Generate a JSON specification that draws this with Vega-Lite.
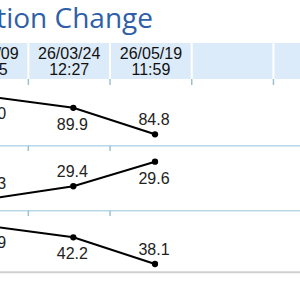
{
  "$schema": "https://vega.github.io/schema/vega-lite/v6.json",
  "width": 300,
  "height": 300,
  "padding": 0,
  "autosize": "none",
  "background": "white",
  "config": {"view": {"stroke": null}},
  "datasets": {
    "values": [
      {"metric": "A", "col": 0, "value": 92.0},
      {"metric": "A", "col": 1, "value": 89.9},
      {"metric": "A", "col": 2, "value": 84.8},
      {"metric": "B", "col": 0, "value": 29.3},
      {"metric": "B", "col": 1, "value": 29.4},
      {"metric": "B", "col": 2, "value": 29.6},
      {"metric": "C", "col": 0, "value": 43.9},
      {"metric": "C", "col": 1, "value": 42.2},
      {"metric": "C", "col": 2, "value": 38.1}
    ],
    "columns": [
      {"col": 0, "label": "26/01/09\n10:45"},
      {"col": 1, "label": "26/03/24\n12:27"},
      {"col": 2, "label": "26/05/19\n11:59"},
      {"col": 3, "label": ""},
      {"col": 4, "label": ""}
    ],
    "bounds": [{"b": 0.5}, {"b": 1.5}, {"b": 2.5}, {"b": 3.5}],
    "rowTicks": [
      {"b": 0.5, "u": 1.0262, "u2": 1.1077},
      {"b": 1.5, "u": 1.0262, "u2": 1.1077},
      {"b": 0.5, "u": 2.0262, "u2": 2.1077},
      {"b": 1.5, "u": 2.0262, "u2": 2.1077}
    ],
    "seps": [{"u": 1.0262}, {"u": 2.0262}]
  },
  "resolve": {"scale": {"x": "independent", "y": "independent"}},
  "layer": [
    {
      "layer": [
        {
          "data": {"values": [{}]},
          "mark": {"type": "rect", "color": "#DCEBF9"},
          "encoding": {
            "x": {"datum": -0.5, "type": "quantitative", "scale": {"domain": [0.153, 3.825], "nice": false, "zero": false}, "axis": null},
            "x2": {"datum": 4.5},
            "y": {"datum": -0.5538, "type": "quantitative", "scale": {"domain": [-1.21538, 3.4], "reverse": true, "nice": false, "zero": false}, "axis": null},
            "y2": {"datum": 0}
          }
        },
        {
          "data": {"name": "bounds"},
          "mark": {"type": "rule", "color": "#FFFFFF", "strokeWidth": 2},
          "encoding": {
            "x": {"field": "b", "type": "quantitative", "scale": {"domain": [0.153, 3.825], "nice": false, "zero": false}, "axis": null},
            "y": {"datum": -0.5538, "type": "quantitative", "scale": {"domain": [-1.21538, 3.4], "reverse": true, "nice": false, "zero": false}, "axis": null},
            "y2": {"datum": 0}
          }
        },
        {
          "data": {"name": "bounds"},
          "mark": {"type": "rule", "color": "#9BC2CC", "strokeWidth": 1.5},
          "encoding": {
            "x": {"field": "b", "type": "quantitative", "axis": null},
            "y": {"datum": 0, "type": "quantitative", "axis": null},
            "y2": {"datum": 0.0923}
          }
        },
        {
          "data": {"name": "seps"},
          "mark": {"type": "rule", "color": "#B6D8EA", "strokeWidth": 1.5},
          "encoding": {
            "x": {"datum": -0.5, "type": "quantitative", "axis": null},
            "x2": {"datum": 4.5},
            "y": {"field": "u", "type": "quantitative", "axis": null}
          }
        },
        {
          "data": {"name": "rowTicks"},
          "mark": {"type": "rule", "color": "#9BC2CC", "strokeWidth": 1.5},
          "encoding": {
            "x": {"field": "b", "type": "quantitative", "axis": null},
            "y": {"field": "u", "type": "quantitative", "axis": null},
            "y2": {"field": "u2"}
          }
        },
        {
          "data": {"values": [{}]},
          "mark": {"type": "rule", "color": "#D0D0D0", "strokeWidth": 2},
          "encoding": {
            "x": {"datum": -0.5, "type": "quantitative", "axis": null},
            "x2": {"datum": 4.5},
            "y": {"datum": 2.9738, "type": "quantitative", "axis": null}
          }
        },
        {
          "data": {"name": "columns"},
          "mark": {"type": "text", "align": "center", "baseline": "alphabetic", "font": "Liberation Sans", "fontSize": 16, "lineBreak": "\n", "lineHeight": 15.5, "color": "#111111"},
          "encoding": {
            "x": {"field": "col", "type": "quantitative", "axis": null},
            "y": {"datum": -0.3, "type": "quantitative", "axis": null},
            "text": {"field": "label"}
          }
        },
        {
          "data": {"values": [{}]},
          "mark": {"type": "text", "text": "Population Change", "align": "right", "baseline": "alphabetic", "font": "Open Sans", "fontSize": 28, "color": "#2F5FA7"},
          "encoding": {
            "x": {"datum": 2.0257, "type": "quantitative", "axis": null},
            "y": {"datum": -0.7846, "type": "quantitative", "axis": null}
          }
        }
      ]
    },
    {
      "data": {"name": "values"},
      "transform": [{"filter": {"field": "metric", "equal": "A"}}],
      "encoding": {
        "x": {"field": "col", "type": "quantitative", "scale": {"domain": [0.1028, 3.7748], "nice": false, "zero": false}, "axis": null},
        "y": {"field": "value", "type": "quantitative", "scale": {"domain": [52.898, 110.657], "nice": false, "zero": false}, "axis": null}
      },
      "layer": [
        {"mark": {"type": "line", "color": "#000000", "strokeWidth": 2}},
        {"mark": {"type": "point", "filled": true, "color": "#000000", "size": 40, "opacity": 1}},
        {
          "transform": [{"filter": {"field": "col", "oneOf": [0, 1]}}],
          "mark": {"type": "text", "dy": 22, "dx": -1, "baseline": "alphabetic", "font": "Liberation Sans", "fontSize": 16, "color": "#222222"},
          "encoding": {"text": {"field": "value", "type": "quantitative", "format": ".1f"}}
        },
        {
          "transform": [{"filter": {"field": "col", "oneOf": [2]}}],
          "mark": {"type": "text", "dy": -9.5, "dx": -1, "baseline": "alphabetic", "font": "Liberation Sans", "fontSize": 16, "color": "#222222"},
          "encoding": {"text": {"field": "value", "type": "quantitative", "format": ".1f"}}
        }
      ]
    },
    {
      "data": {"name": "values"},
      "transform": [{"filter": {"field": "metric", "equal": "B"}}],
      "encoding": {
        "x": {"field": "col", "type": "quantitative", "scale": {"domain": [0.1028, 3.7748], "nice": false, "zero": false}, "axis": null},
        "y": {"field": "value", "type": "quantitative", "scale": {"domain": [28.4726, 30.918], "nice": false, "zero": false}, "axis": null}
      },
      "layer": [
        {"mark": {"type": "line", "color": "#000000", "strokeWidth": 2}},
        {"mark": {"type": "point", "filled": true, "color": "#000000", "size": 40, "opacity": 1}},
        {
          "transform": [{"filter": {"field": "col", "oneOf": [2]}}],
          "mark": {"type": "text", "dy": 22, "dx": -1, "baseline": "alphabetic", "font": "Liberation Sans", "fontSize": 16, "color": "#222222"},
          "encoding": {"text": {"field": "value", "type": "quantitative", "format": ".1f"}}
        },
        {
          "transform": [{"filter": {"field": "col", "oneOf": [0, 1]}}],
          "mark": {"type": "text", "dy": -9.5, "dx": -1, "baseline": "alphabetic", "font": "Liberation Sans", "fontSize": 16, "color": "#222222"},
          "encoding": {"text": {"field": "value", "type": "quantitative", "format": ".1f"}}
        }
      ]
    },
    {
      "data": {"name": "values"},
      "transform": [{"filter": {"field": "metric", "equal": "C"}}],
      "encoding": {
        "x": {"field": "col", "type": "quantitative", "scale": {"domain": [0.1028, 3.7748], "nice": false, "zero": false}, "axis": null},
        "y": {"field": "value", "type": "quantitative", "scale": {"domain": [32.562, 78.715], "nice": false, "zero": false}, "axis": null}
      },
      "layer": [
        {"mark": {"type": "line", "color": "#000000", "strokeWidth": 2}},
        {"mark": {"type": "point", "filled": true, "color": "#000000", "size": 40, "opacity": 1}},
        {
          "transform": [{"filter": {"field": "col", "oneOf": [0, 1]}}],
          "mark": {"type": "text", "dy": 22, "dx": -1, "baseline": "alphabetic", "font": "Liberation Sans", "fontSize": 16, "color": "#222222"},
          "encoding": {"text": {"field": "value", "type": "quantitative", "format": ".1f"}}
        },
        {
          "transform": [{"filter": {"field": "col", "oneOf": [2]}}],
          "mark": {"type": "text", "dy": -9.5, "dx": -1, "baseline": "alphabetic", "font": "Liberation Sans", "fontSize": 16, "color": "#222222"},
          "encoding": {"text": {"field": "value", "type": "quantitative", "format": ".1f"}}
        }
      ]
    }
  ]
}
